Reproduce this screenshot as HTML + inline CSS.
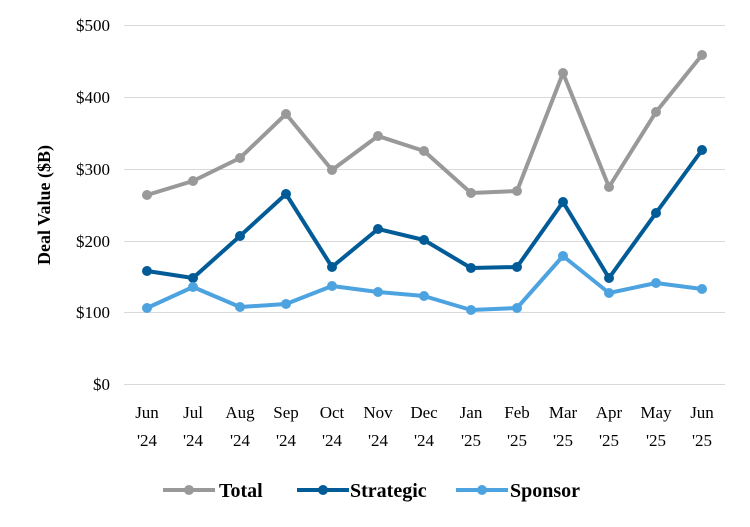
<!DOCTYPE html>
<html><head><meta charset="utf-8"><style>
body{margin:0;background:#fff;}
svg{display:block;font-family:"Liberation Serif",serif;}
</style></head><body>
<svg width="750" height="527" viewBox="0 0 750 527" xmlns="http://www.w3.org/2000/svg">
<g stroke="#d9d9d9" stroke-width="1">
<line x1="124" x2="725" y1="25.5" y2="25.5"/>
<line x1="124" x2="725" y1="97.5" y2="97.5"/>
<line x1="124" x2="725" y1="169.5" y2="169.5"/>
<line x1="124" x2="725" y1="241.5" y2="241.5"/>
<line x1="124" x2="725" y1="312.5" y2="312.5"/>
<line x1="124" x2="725" y1="384.5" y2="384.5"/>
</g>
<g font-size="17" fill="#000" text-anchor="end">
<text x="110" y="31">$500</text>
<text x="110" y="103">$400</text>
<text x="110" y="175">$300</text>
<text x="110" y="247">$200</text>
<text x="110" y="318">$100</text>
<text x="110" y="390">$0</text>
</g>
<text transform="translate(50,205) rotate(-90)" font-size="18" font-weight="bold" text-anchor="middle">Deal Value ($B)</text>
<g font-size="17" text-anchor="middle">
<text x="147" y="418">Jun</text><text x="147" y="446">'24</text>
<text x="193" y="418">Jul</text><text x="193" y="446">'24</text>
<text x="240" y="418">Aug</text><text x="240" y="446">'24</text>
<text x="286" y="418">Sep</text><text x="286" y="446">'24</text>
<text x="332" y="418">Oct</text><text x="332" y="446">'24</text>
<text x="378" y="418">Nov</text><text x="378" y="446">'24</text>
<text x="424" y="418">Dec</text><text x="424" y="446">'24</text>
<text x="471" y="418">Jan</text><text x="471" y="446">'25</text>
<text x="517" y="418">Feb</text><text x="517" y="446">'25</text>
<text x="563" y="418">Mar</text><text x="563" y="446">'25</text>
<text x="609" y="418">Apr</text><text x="609" y="446">'25</text>
<text x="656" y="418">May</text><text x="656" y="446">'25</text>
<text x="702" y="418">Jun</text><text x="702" y="446">'25</text>
</g>
<g fill="none" stroke-width="4" stroke-linejoin="round">
<polyline stroke="#999999" points="147,195 193,181 240,158 286,114 332,170 378,136 424,151 471,193 517,191 563,73 609,187 656,112 702,55"/>
<polyline stroke="#005b96" points="147,271 193,278 240,236 286,194 332,267 378,229 424,240 471,268 517,267 563,202 609,278 656,213 702,150"/>
<polyline stroke="#4da3e0" points="147,308 193,287 240,307 286,304 332,286 378,292 424,296 471,310 517,308 563,256 609,293 656,283 702,289"/>
</g>
<g fill="#999999">
<circle cx="147" cy="195" r="5"/><circle cx="193" cy="181" r="5"/><circle cx="240" cy="158" r="5"/><circle cx="286" cy="114" r="5"/><circle cx="332" cy="170" r="5"/><circle cx="378" cy="136" r="5"/><circle cx="424" cy="151" r="5"/><circle cx="471" cy="193" r="5"/><circle cx="517" cy="191" r="5"/><circle cx="563" cy="73" r="5"/><circle cx="609" cy="187" r="5"/><circle cx="656" cy="112" r="5"/><circle cx="702" cy="55" r="5"/>
</g>
<g fill="#005b96">
<circle cx="147" cy="271" r="5"/><circle cx="193" cy="278" r="5"/><circle cx="240" cy="236" r="5"/><circle cx="286" cy="194" r="5"/><circle cx="332" cy="267" r="5"/><circle cx="378" cy="229" r="5"/><circle cx="424" cy="240" r="5"/><circle cx="471" cy="268" r="5"/><circle cx="517" cy="267" r="5"/><circle cx="563" cy="202" r="5"/><circle cx="609" cy="278" r="5"/><circle cx="656" cy="213" r="5"/><circle cx="702" cy="150" r="5"/>
</g>
<g fill="#4da3e0">
<circle cx="147" cy="308" r="5"/><circle cx="193" cy="287" r="5"/><circle cx="240" cy="307" r="5"/><circle cx="286" cy="304" r="5"/><circle cx="332" cy="286" r="5"/><circle cx="378" cy="292" r="5"/><circle cx="424" cy="296" r="5"/><circle cx="471" cy="310" r="5"/><circle cx="517" cy="308" r="5"/><circle cx="563" cy="256" r="5"/><circle cx="609" cy="293" r="5"/><circle cx="656" cy="283" r="5"/><circle cx="702" cy="289" r="5"/>
</g>
<g stroke-width="4">
<line x1="163" x2="215" y1="490" y2="490" stroke="#999999"/><circle cx="189" cy="490" r="5" fill="#999999"/>
<line x1="297" x2="349" y1="490" y2="490" stroke="#005b96"/><circle cx="323" cy="490" r="5" fill="#005b96"/>
<line x1="456" x2="508" y1="490" y2="490" stroke="#4da3e0"/><circle cx="482" cy="490" r="5" fill="#4da3e0"/>
</g>
<g font-size="20" font-weight="bold">
<text x="219" y="497">Total</text>
<text x="350" y="497">Strategic</text>
<text x="510" y="497">Sponsor</text>
</g>
</svg>
</body></html>
